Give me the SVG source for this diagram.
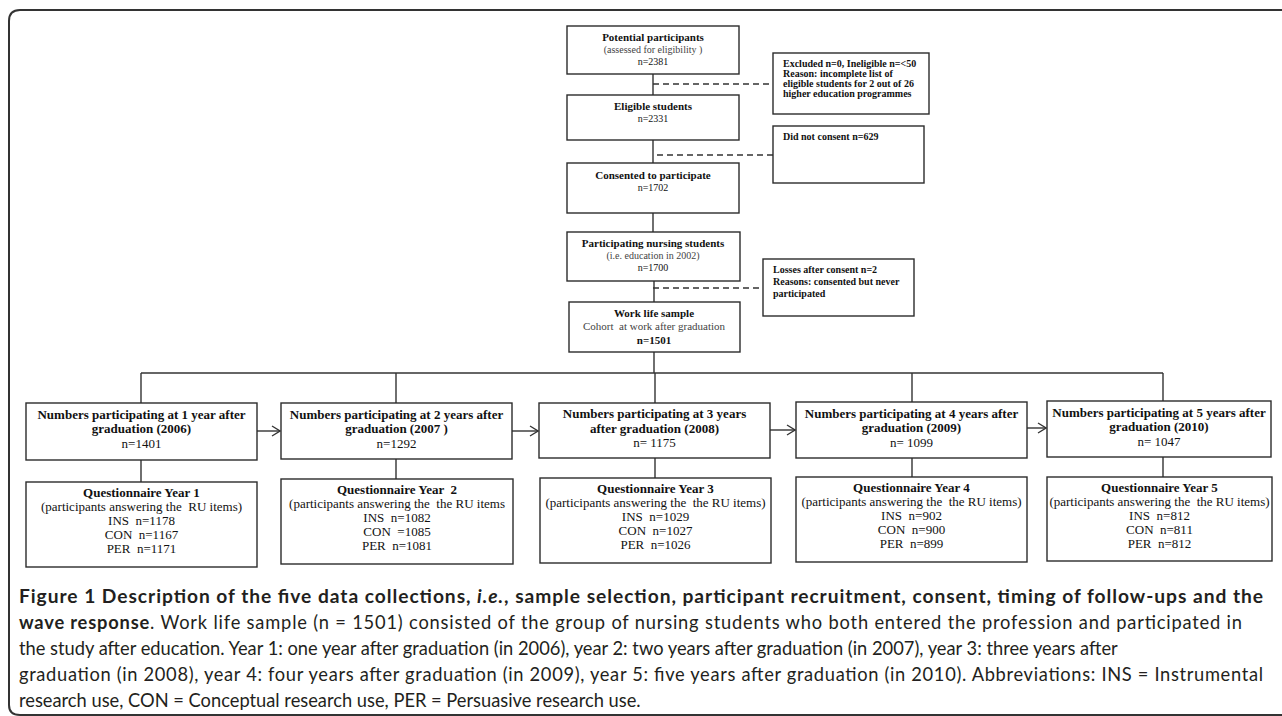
<svg xmlns="http://www.w3.org/2000/svg" width="1282" height="716" viewBox="0 0 1282 716">
<defs>
<style>
.box{fill:#fff;stroke:#2b2b2b;stroke-width:1.4}
.ln{stroke:#333;stroke-width:1.4;fill:none}
.dash{stroke:#333;stroke-width:1.3;fill:none;stroke-dasharray:6 4}
.t{font-family:"Liberation Serif","Times New Roman",serif;fill:#111}
.b{font-weight:bold}
.s11{font-size:11px}
.s10{font-size:10px}
.s13{font-size:13px}
.g{fill:#444}
.mid{text-anchor:middle}
.cap{font-family:Lato,"Open Sans",sans-serif;font-size:18.3px;fill:#231f20}
.capb{font-family:Lato,"Open Sans",sans-serif;font-size:19.2px;font-weight:bold;fill:#231f20}
</style>
<marker id="ah" markerWidth="10" markerHeight="12" refX="9" refY="6" orient="auto" markerUnits="userSpaceOnUse">
<path d="M1,1 L9,6 L1,11" fill="none" stroke="#333" stroke-width="1.3"/>
</marker>
</defs>
<rect width="1282" height="716" fill="#fff"/>
<path d="M1290,10 L20,10 Q9,10 9,21 L9,705 Q9,715 20,715 L1290,715" fill="none" stroke="#333" stroke-width="2"/>

<g id="connectors">
<line class="ln" x1="653" y1="74" x2="653" y2="95"/>
<line class="ln" x1="653" y1="140" x2="653" y2="163"/>
<line class="ln" x1="653" y1="213" x2="653" y2="232"/>
<line class="ln" x1="654" y1="281" x2="654" y2="302"/>
<line class="ln" x1="654" y1="352" x2="654" y2="373"/>
<line class="dash" x1="653" y1="84" x2="773" y2="84"/>
<line class="dash" x1="657" y1="155" x2="773" y2="155"/>
<line class="dash" x1="653" y1="288" x2="763" y2="288"/>
<line class="ln" x1="141" y1="373" x2="1163" y2="373"/>
<line class="ln" x1="141" y1="373" x2="141" y2="403"/>
<line class="ln" x1="396" y1="373" x2="396" y2="403"/>
<line class="ln" x1="655" y1="373" x2="655" y2="403"/>
<line class="ln" x1="912" y1="373" x2="912" y2="402"/>
<line class="ln" x1="1163" y1="373" x2="1163" y2="401"/>
<line class="ln" x1="141" y1="460" x2="141" y2="482"/>
<line class="ln" x1="396" y1="459" x2="396" y2="479"/>
<line class="ln" x1="655" y1="458" x2="655" y2="478"/>
<line class="ln" x1="912" y1="458" x2="912" y2="477"/>
<line class="ln" x1="1163" y1="457" x2="1163" y2="477"/>
<line class="ln" x1="257" y1="431" x2="280" y2="431" marker-end="url(#ah)"/>
<line class="ln" x1="512" y1="431" x2="538" y2="431" marker-end="url(#ah)"/>
<line class="ln" x1="770" y1="430" x2="795" y2="430" marker-end="url(#ah)"/>
<line class="ln" x1="1027" y1="428" x2="1046" y2="428" marker-end="url(#ah)"/>
</g>

<g id="potential">
<rect class="box" x="567" y="26" width="172" height="48"/>
<text class="t b s11 mid" x="653" y="41">Potential participants</text>
<text class="t s10 mid g" x="653" y="53" xml:space="preserve">(assessed for eligibility )</text>
<text class="t s10 mid" x="653" y="65">n=2381</text>
</g>
<g id="excluded">
<rect class="box" x="773" y="53" width="156" height="61"/>
<text class="t b s10" x="783" y="67">Excluded n=0, Ineligible n=&lt;50</text>
<text class="t b s10" x="783" y="77">Reason: incomplete list of</text>
<text class="t b s10" x="783" y="87">eligible students for 2 out of 26</text>
<text class="t b s10" x="783" y="97">higher education programmes</text>
</g>
<g id="eligible">
<rect class="box" x="567" y="95" width="172" height="45"/>
<text class="t b s11 mid" x="653" y="110">Eligible students</text>
<text class="t s10 mid" x="653" y="122">n=2331</text>
</g>
<g id="notconsent">
<rect class="box" x="773" y="126" width="151" height="57"/>
<text class="t b s10" x="783" y="140">Did not consent n=629</text>
</g>
<g id="consented">
<rect class="box" x="567" y="163" width="172" height="50"/>
<text class="t b s11 mid" x="653" y="179">Consented to participate</text>
<text class="t s10 mid" x="653" y="191">n=1702</text>
</g>
<g id="participating">
<rect class="box" x="567" y="232" width="173" height="49"/>
<text class="t b s11 mid" x="653" y="247">Participating nursing students</text>
<text class="t s10 mid g" x="653" y="259">(i.e. education in 2002)</text>
<text class="t s10 mid" x="653" y="271">n=1700</text>
</g>
<g id="losses">
<rect class="box" x="763" y="259" width="151" height="57"/>
<text class="t b s10" x="773" y="273">Losses after consent n=2</text>
<text class="t b s10" x="773" y="285">Reasons: consented but never</text>
<text class="t b s10" x="773" y="297">participated</text>
</g>
<g id="worklife">
<rect class="box" x="569" y="302" width="171" height="50"/>
<text class="t b s11 mid" x="654" y="317">Work life sample</text>
<text class="t s11 mid g" x="654" y="330" xml:space="preserve">Cohort  at work after graduation</text>
<text class="t b s11 mid" x="654" y="344">n=1501</text>
</g>

<g id="year1">
<rect class="box" x="26" y="403" width="231" height="57"/>
<text class="t b s13 mid" x="141.5" y="419">Numbers participating at 1 year after</text>
<text class="t b s13 mid" x="141.5" y="433">graduation (2006)</text>
<text class="t s13 mid" x="141.5" y="448">n=1401</text>
</g>
<g id="q1">
<rect class="box" x="26" y="482" width="231" height="85"/>
<text class="t b s13 mid" x="141.5" y="497">Questionnaire Year 1</text>
<text class="t s13 mid" x="141.5" y="511" xml:space="preserve">(participants answering the  RU items)</text>
<text class="t s13 mid" x="141.5" y="525" xml:space="preserve">INS  n=1178</text>
<text class="t s13 mid" x="141.5" y="539" xml:space="preserve">CON  n=1167</text>
<text class="t s13 mid" x="141.5" y="553" xml:space="preserve">PER  n=1171</text>
</g>
<g id="year2">
<rect class="box" x="281" y="403" width="231" height="56"/>
<text class="t b s13 mid" x="396.5" y="419">Numbers participating at 2 years after</text>
<text class="t b s13 mid" x="396.5" y="433" xml:space="preserve">graduation (2007 )</text>
<text class="t s13 mid" x="396.5" y="448">n=1292</text>
</g>
<g id="q2">
<rect class="box" x="281" y="479" width="232" height="85"/>
<text class="t b s13 mid" x="397" y="494" xml:space="preserve">Questionnaire Year  2</text>
<text class="t s13 mid" x="397" y="508" xml:space="preserve">(participants answering the  the RU items</text>
<text class="t s13 mid" x="397" y="522" xml:space="preserve">INS  n=1082</text>
<text class="t s13 mid" x="397" y="536" xml:space="preserve">CON  =1085</text>
<text class="t s13 mid" x="397" y="550" xml:space="preserve">PER  n=1081</text>
</g>
<g id="year3">
<rect class="box" x="539" y="403" width="231" height="55"/>
<text class="t b s13 mid" x="654.5" y="418">Numbers participating at 3 years</text>
<text class="t b s13 mid" x="654.5" y="433">after graduation (2008)</text>
<text class="t s13 mid" x="654.5" y="447">n= 1175</text>
</g>
<g id="q3">
<rect class="box" x="540" y="478" width="231" height="85"/>
<text class="t b s13 mid" x="655.5" y="493">Questionnaire Year 3</text>
<text class="t s13 mid" x="655.5" y="507" xml:space="preserve">(participants answering the  the RU items)</text>
<text class="t s13 mid" x="655.5" y="521" xml:space="preserve">INS  n=1029</text>
<text class="t s13 mid" x="655.5" y="535" xml:space="preserve">CON  n=1027</text>
<text class="t s13 mid" x="655.5" y="549" xml:space="preserve">PER  n=1026</text>
</g>
<g id="year4">
<rect class="box" x="796" y="402" width="231" height="56"/>
<text class="t b s13 mid" x="911.5" y="418">Numbers participating at 4 years after</text>
<text class="t b s13 mid" x="911.5" y="432">graduation (2009)</text>
<text class="t s13 mid" x="911.5" y="447">n= 1099</text>
</g>
<g id="q4">
<rect class="box" x="796" y="477" width="231" height="85"/>
<text class="t b s13 mid" x="911.5" y="492">Questionnaire Year 4</text>
<text class="t s13 mid" x="911.5" y="506" xml:space="preserve">(participants answering the  the RU items)</text>
<text class="t s13 mid" x="911.5" y="520" xml:space="preserve">INS  n=902</text>
<text class="t s13 mid" x="911.5" y="534" xml:space="preserve">CON  n=900</text>
<text class="t s13 mid" x="911.5" y="548" xml:space="preserve">PER  n=899</text>
</g>
<g id="year5">
<rect class="box" x="1047" y="401" width="224" height="56"/>
<text class="t b s13 mid" x="1159" y="417">Numbers participating at 5 years after</text>
<text class="t b s13 mid" x="1159" y="431">graduation (2010)</text>
<text class="t s13 mid" x="1159" y="446">n= 1047</text>
</g>
<g id="q5">
<rect class="box" x="1047" y="477" width="225" height="84"/>
<text class="t b s13 mid" x="1159.5" y="492">Questionnaire Year 5</text>
<text class="t s13 mid" x="1159.5" y="506" xml:space="preserve">(participants answering the  the RU items)</text>
<text class="t s13 mid" x="1159.5" y="520" xml:space="preserve">INS  n=812</text>
<text class="t s13 mid" x="1159.5" y="534" xml:space="preserve">CON  n=811</text>
<text class="t s13 mid" x="1159.5" y="548" xml:space="preserve">PER  n=812</text>
</g>

<g id="caption">
<text class="capb" x="19" y="603" textLength="1244">Figure 1 Description of the five data collections, <tspan font-style="italic">i.e.</tspan>, sample selection, participant recruitment, consent, timing of follow-ups and the</text>
<text class="cap" x="19" y="629" textLength="1223"><tspan font-weight="bold">wave response</tspan>. Work life sample (n = 1501) consisted of the group of nursing students who both entered the profession and participated in</text>
<text class="cap" x="19" y="655">the study after education. Year 1: one year after graduation (in 2006), year 2: two years after graduation (in 2007), year 3: three years after</text>
<text class="cap" x="19" y="681" textLength="1244">graduation (in 2008), year 4: four years after graduation (in 2009), year 5: five years after graduation (in 2010). Abbreviations: INS = Instrumental</text>
<text class="cap" x="19" y="707">research use, CON = Conceptual research use, PER = Persuasive research use.</text>
</g>
</svg>
